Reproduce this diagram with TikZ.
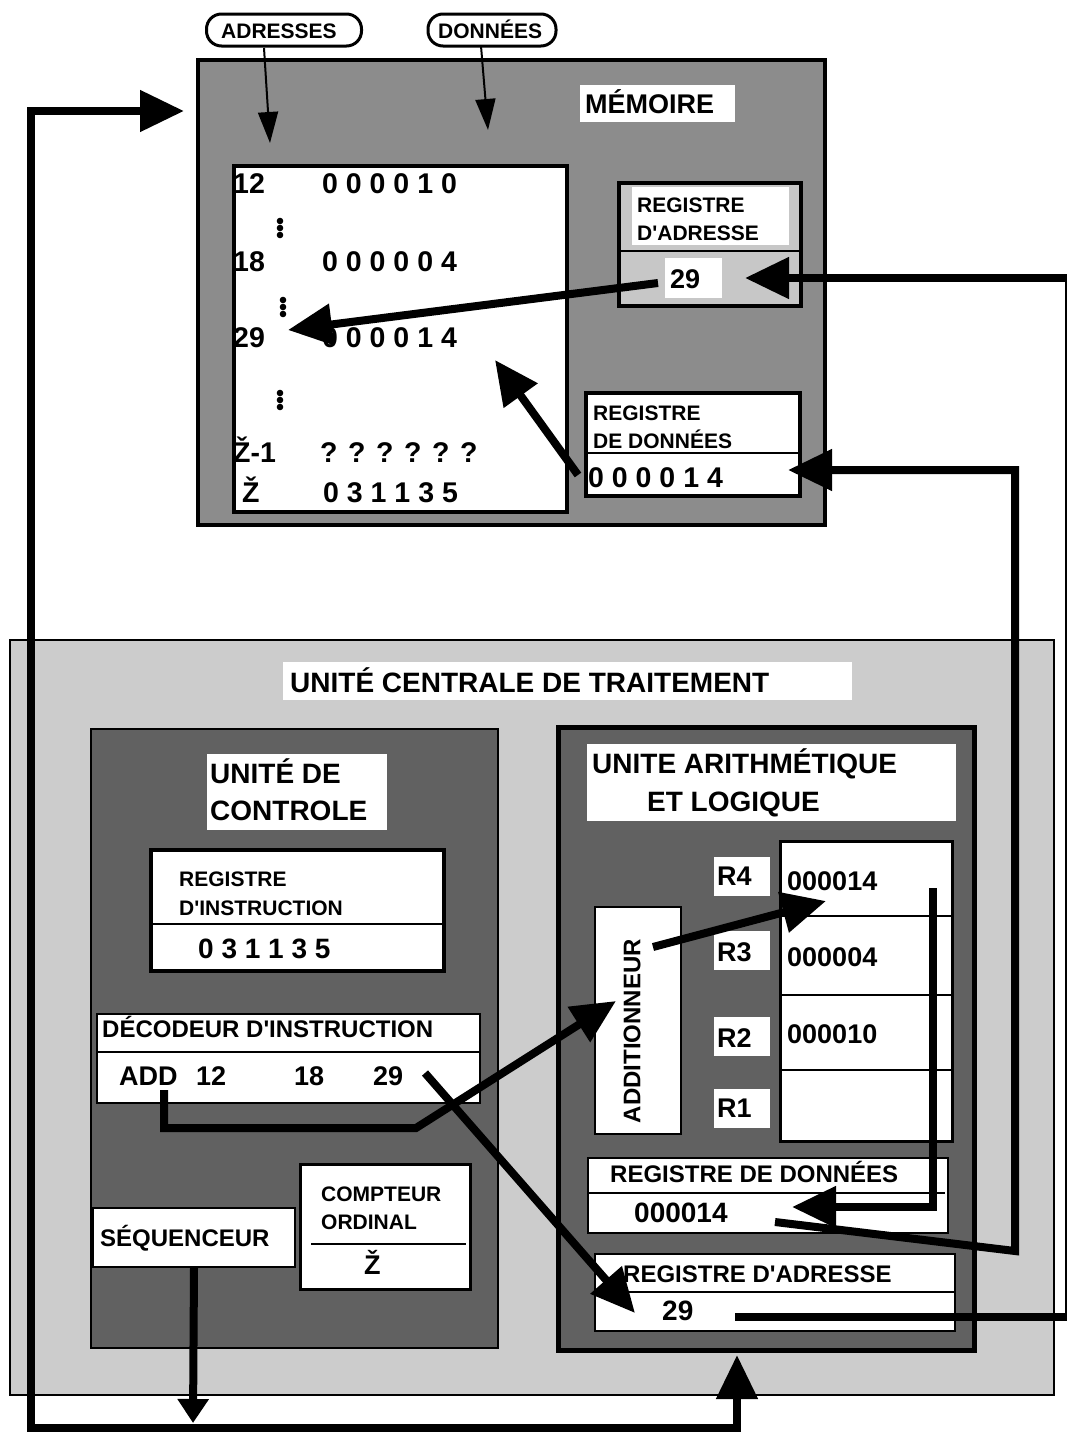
\documentclass[tikz,border=0pt]{standalone}
\usepackage{fontspec}
\setmainfont{Liberation Sans}
\usetikzlibrary{arrows.meta}

\definecolor{memgray}{gray}{0.55}
\definecolor{cpugray}{gray}{0.80}
\definecolor{unitgray}{gray}{0.38}
\definecolor{reggray}{gray}{0.78}

\newcommand{\fsz}[1]{\fontsize{#1pt}{#1pt}\selectfont\bfseries}
\newcommand{\apo}{\textquotesingle}

\tikzset{
  box/.style={draw, anchor=north west, inner sep=0pt, line width=3pt, fill=white},
  patch/.style={fill=white, anchor=north west, inner sep=0pt},
  bubble/.style={draw, line width=3pt, rounded corners=15pt, fill=white, inner sep=0pt},
  lbl/.style={anchor=base west, inner sep=0pt, font=\fsz{21}},
  mid/.style={anchor=base west, inner sep=0pt, font=\fsz{24}},
  big/.style={anchor=base west, inner sep=0pt, font=\fsz{27}},
  cell/.style={anchor=base west, inner sep=0pt, font=\fsz{28.5}},
  sep/.style={line width=2pt},
  busarrow/.style={line width=8pt, -{Triangle[length=44pt,width=40pt]}},
  pointer/.style={line width=2pt, -{Triangle[length=31pt,width=20pt]}},
}

\begin{document}
\begin{tikzpicture}[x=1pt, y=-1pt]
    \useasboundingbox (0,0) rectangle (1067,1435);

    % Memory
    \node[box, fill=memgray, line width=4pt, minimum width=627pt, minimum height=465pt] (mem) at (196,58) {};
    \node[patch, minimum width=155pt, minimum height=37pt] (memTitle) at (580,85) {};
    \node[big] (memName) at (585,113) {MÉMOIRE};

    \node[bubble, minimum width=155pt, minimum height=32pt] (adrBubble) at (284,30) {};
    \node[lbl] (adrTxt) at (221,38) {ADRESSES};
    \node[bubble, minimum width=128pt, minimum height=32pt] (donBubble) at (492,30) {};
    \node[lbl] (donTxt) at (438,38) {DONNÉES};

    % Memory cells
    \node[box, line width=4pt, minimum width=333pt, minimum height=346pt] (memCells) at (232,164) {};
    \node[cell] (a12) at (233,193) {12};
    \node[cell] (v12) at (322,193) {0 0 0 0 1 0};
    \node[cell] (a18) at (233,271) {18};
    \node[cell] (v18) at (322,271) {0 0 0 0 0 4};
    \node[cell] (a29) at (233,347) {29};
    \node[cell] (v29) at (322,347) {0 0 0 0 1 4};
    \node[cell] (aLastM) at (233,462) {Ž-1};
    \node[cell] (vLastM) at (320,462) {? ? ? ? ? ?};
    \node[cell] (aLast) at (242,502) {Ž};
    \node[cell] (vLast) at (323,502) {0 3 1 1 3 5};
    \foreach \x/\y in {280/228, 283/307, 280/400}
        \foreach \d in {-7,0,7}
            \fill (\x,\y+\d) circle (3.3pt);

    % Memory registers
    \node[box, fill=reggray, line width=4pt, minimum width=182pt, minimum height=123pt] (memAR) at (617,181) {};
    \node[patch, minimum width=157pt, minimum height=58pt] (memARlbl) at (632,187) {};
    \node[patch, minimum width=57pt, minimum height=40pt] (memARval) at (665,258) {};
    \draw[sep] (617,251) -- (799,251);
    \node[lbl] (memARt1) at (637,212) {REGISTRE};
    \node[lbl] (memARt2) at (637,240) {D\apo ADRESSE};
    \node[big] (memARnum) at (670,288) {29};

    \node[box, line width=4pt, minimum width=214pt, minimum height=103pt] (memDR) at (584,391) {};
    \draw[sep] (584,453) -- (798,453);
    \node[lbl] (memDRt1) at (593,420) {REGISTRE};
    \node[lbl] (memDRt2) at (593,448) {DE DONNÉES};
    \node[cell] (memDRnum) at (588,487) {0 0 0 0 1 4};

    % CPU
    \node[box, fill=cpugray, line width=2pt, minimum width=1044pt, minimum height=755pt] (cpu) at (9,639) {};
    \node[patch, minimum width=569pt, minimum height=38pt] (cpuTitle) at (283,662) {};
    \node[big, font=\fsz{28}] (cpuName) at (290,692) {UNITÉ CENTRALE DE TRAITEMENT};

    % Control unit
    \node[box, fill=unitgray, line width=1.5pt, minimum width=407pt, minimum height=619pt] (uc) at (90,728) {};
    \node[patch, minimum width=180pt, minimum height=76pt] (ucTitle) at (207,754) {};
    \node[big, font=\fsz{28}] (ucT1) at (210,783) {UNITÉ DE};
    \node[big, font=\fsz{28}] (ucT2) at (210,820) {CONTROLE};

    \node[box, line width=4pt, minimum width=293pt, minimum height=121pt] (ri) at (149,848) {};
    \draw[sep] (149,924) -- (442,924);
    \node[lbl] (riT1) at (179,886) {REGISTRE};
    \node[lbl] (riT2) at (179,915) {D\apo INSTRUCTION};
    \node[big, font=\fsz{28}] (riVal) at (198,958) {0 3 1 1 3 5};

    \node[box, line width=2pt, minimum width=383pt, minimum height=89pt] (dec) at (96,1013) {};
    \draw[sep] (96,1052) -- (479,1052);
    \node[mid] (decT) at (102,1037) {DÉCODEUR D\apo INSTRUCTION};
    \node[big] (decOp) at (119,1085) {ADD};
    \node[big] (decA) at (196,1085) {12};
    \node[big] (decB) at (294,1085) {18};
    \node[big] (decC) at (373,1085) {29};

    \node[box, line width=3pt, minimum width=170pt, minimum height=125pt] (co) at (299,1163) {};
    \draw[sep] (311,1244) -- (466,1244);
    \node[lbl] (coT1) at (321,1201) {COMPTEUR};
    \node[lbl] (coT2) at (321,1229) {ORDINAL};
    \node[big] (coVal) at (364,1274) {Ž};

    \node[box, line width=2pt, minimum width=202pt, minimum height=59pt] (seq) at (92,1207) {};
    \node[mid] (seqT) at (100,1246) {SÉQUENCEUR};

    % ALU
    \node[box, fill=unitgray, line width=5pt, minimum width=416pt, minimum height=623pt] (ual) at (556,725) {};
    \node[patch, minimum width=369pt, minimum height=77pt] (ualTitle) at (587,744) {};
    \node[big, font=\fsz{28}] (ualT1) at (592,773) {UNITE ARITHMÉTIQUE};
    \node[big, font=\fsz{28}] (ualT2) at (647,811) {ET LOGIQUE};

    \node[box, line width=3pt, minimum width=172pt, minimum height=300pt] (regs) at (779,840) {};
    \foreach \y in {916, 995, 1070}
        \draw[sep] (779,\y) -- (951,\y);
    \foreach \n/\y/\b in {4/857/885, 3/931/961, 2/1017/1047, 1/1089/1117} {
        \node[patch, minimum width=56pt, minimum height=39pt] (rbox\n) at (714,\y) {};
        \node[big] (rname\n) at (717,\b) {R\n};
    }
    \node[big] (r4val) at (787,890) {000014};
    \node[big] (r3val) at (787,966) {000004};
    \node[big] (r2val) at (787,1043) {000010};

    \node[box, line width=2pt, minimum width=86pt, minimum height=227pt] (add) at (594,906) {};
    \node[rotate=90, inner sep=0pt, font=\fsz{24}] (addT) at (632,1031) {ADDITIONNEUR};

    \node[box, line width=2pt, minimum width=360pt, minimum height=75pt] (ualDR) at (587,1157) {};
    \draw[sep] (587,1193) -- (945,1193);
    \node[mid] (ualDRt) at (610,1182) {REGISTRE DE DONNÉES};
    \node[big, font=\fsz{28}] (ualDRval) at (634,1222) {000014};

    \node[box, line width=2pt, minimum width=360pt, minimum height=77pt] (ualAR) at (594,1253) {};
    \draw[sep] (594,1292) -- (954,1292);
    \node[mid] (ualARt) at (623,1282) {REGISTRE D\apo ADRESSE};
    \node[big, font=\fsz{28}] (ualARval) at (662,1320) {29};

    % Bus points
    \coordinate (memIn) at (184,111);
    \coordinate (busTL) at (31,111);
    \coordinate (busBL) at (31,1428);
    \coordinate (busBR) at (737,1428);
    \coordinate (cpuIn) at (737,1355);
    \coordinate (seqTip) at (193,1423);
    \coordinate (arOut) at (735,1317);
    \coordinate (arR) at (1069,1317);
    \coordinate (arTop) at (1069,278);
    \coordinate (memArIn) at (745,278);
    \coordinate (drOut) at (775,1222);
    \coordinate (drR) at (1015,1251);
    \coordinate (drTop) at (1015,470);
    \coordinate (memDrIn) at (788,470);
    \coordinate (arTail) at (658,283);
    \coordinate (cell29) at (288,330);
    \coordinate (drTail) at (578,475);
    \coordinate (cellIn) at (495,360);
    \coordinate (adrFrom) at (264,48);
    \coordinate (adrTo) at (270,143);
    \coordinate (donFrom) at (481,46);
    \coordinate (donTo) at (488,130);
    \coordinate (addOut) at (653,947);
    \coordinate (r4In) at (826,901);
    \coordinate (opDown) at (164,1090);
    \coordinate (opBend) at (164,1128);
    \coordinate (opRight) at (416,1128);
    \coordinate (addIn) at (616,1001);
    \coordinate (cFrom) at (425,1073);
    \coordinate (arIn) at (635,1313);
    \coordinate (rTop) at (933,888);
    \coordinate (rBend) at (933,1207);
    \coordinate (drIn) at (792,1207);

    % Buses
    \draw[line width=8pt, {Triangle[length=44pt,width=40pt]}-{Triangle[length=44pt,width=40pt]}] (memIn) -- (busTL) -- (busBL) -- (busBR) -- (cpuIn);
    \draw[line width=8pt, -{Triangle[length=24pt,width=30pt]}] (seq.south) -- (seqTip);
    \draw[busarrow] (arOut) -- (arR) -- (arTop) -- (memArIn);
    \draw[busarrow] (drOut) -- (drR) -- (drTop) -- (memDrIn);

    % Inside memory
    \draw[busarrow] (arTail) -- (cell29);
    \draw[busarrow] (drTail) -- (cellIn);
    \draw[pointer] (adrFrom) -- (adrTo);
    \draw[pointer] (donFrom) -- (donTo);

    % Inside CPU
    \draw[busarrow] (addOut) -- (r4In);
    \draw[busarrow] (opDown) -- (opBend) -- (opRight) -- (addIn);
    \draw[busarrow] (cFrom) -- (arIn);
    \draw[busarrow] (rTop) -- (rBend) -- (drIn);
\end{tikzpicture}
\end{document}
